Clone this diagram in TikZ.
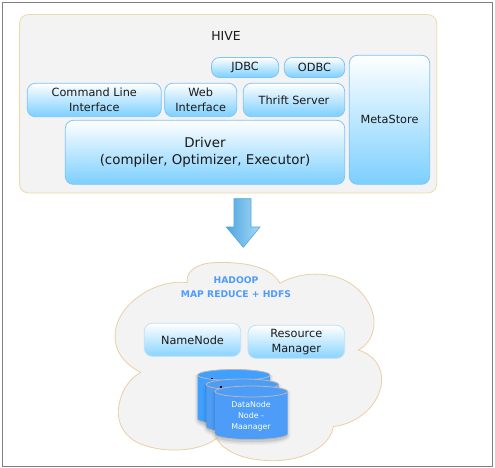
\documentclass[tikz,border=0pt]{standalone}
\usepackage{fontspec}
\setmainfont{DejaVu Sans}
\usetikzlibrary{shadings,fadings}
\definecolor{boxedge}{HTML}{7FC4F5}
\definecolor{boxlow}{HTML}{7CCFFF}
\definecolor{pale}{HTML}{F3F3F3}
\definecolor{tan}{HTML}{F0D9A8}
\definecolor{cloudedge}{HTML}{EBCFA6}
\definecolor{hadoopblue}{HTML}{4D9BFF}
\definecolor{cylA}{HTML}{3FA0FF}
\definecolor{cylB}{HTML}{4F9CF5}
\definecolor{cylC}{HTML}{4C9CF8}
\definecolor{arrowdark}{HTML}{4FA6E0}
\definecolor{arrowlight}{HTML}{A5D8F7}
\tikzset{
  gbox/.style={draw=boxedge,line width=0.8pt,rounded corners=8pt,top color=white,bottom color=boxlow,
    align=center,inner sep=0pt,font=\fontsize{11.3}{15.3}\selectfont,text=black!90},
  hbox/.style={gbox,draw=boxedge!50,bottom color=boxlow!90},
  dnlabel/.style={text=white,align=center,inner sep=0pt,font=\fontsize{7.9}{11}\selectfont},
  cylrim/.style={draw=black!28,line width=0.8pt},
}
% bottom half of an ellipse, from left to right, continuing a path is not possible
% inside \pgfmathsetmacro, so the whole body outline is built from these values
\newcommand{\cylshape}[5]{% x1 x2 ytop ybot colour
  \pgfmathsetmacro{\cc}{(#1+#2)/2}
  \pgfmathsetmacro{\rk}{(#2-#1)/2*0.5523}
  \pgfmathsetmacro{\pa}{\cc-\rk}
  \pgfmathsetmacro{\pb}{\cc+\rk}
  \foreach \s/\o in {5/0.04,3.5/0.06,2/0.08}{
    \fill[black,opacity=\o] (#1-\s+2,#3) -- (#1-\s+2,#4+1)
      .. controls (#1-\s+2,#4+4.5+\s) and (\pa,#4+6+\s) .. (\cc,#4+6+\s)
      .. controls (\pb,#4+6+\s) and (#2+\s-2,#4+4.5+\s) .. (#2+\s-2,#4+1) -- (#2+\s-2,#3) -- cycle;
  }
  \fill[#5] (#1,#3) -- (#1,#4)
      .. controls (#1,#4+3) and (\pa,#4+5.5) .. (\cc,#4+5.5)
      .. controls (\pb,#4+5.5) and (#2,#4+3) .. (#2,#4) -- (#2,#3)
      .. controls (#2,#3-3) and (\pb,#3-5.5) .. (\cc,#3-5.5)
      .. controls (\pa,#3-5.5) and (#1,#3-3) .. (#1,#3) -- cycle;
  \draw[cylrim] (#1,#3)
      .. controls (#1,#3-3) and (\pa,#3-5.5) .. (\cc,#3-5.5)
      .. controls (\pb,#3-5.5) and (#2,#3-3) .. (#2,#3)
      .. controls (#2,#3+3) and (\pb,#3+5.5) .. (\cc,#3+5.5)
      .. controls (\pa,#3+5.5) and (#1,#3+3) .. (#1,#3) -- cycle;
  \draw[cylrim] (#1,#4)
      .. controls (#1,#4+3) and (\pa,#4+5.5) .. (\cc,#4+5.5)
      .. controls (\pb,#4+5.5) and (#2,#4+3) .. (#2,#4);
}
\begin{document}
\begin{tikzpicture}[x=1pt,y=-1pt]
\useasboundingbox (0,0) rectangle (495,468);
\fill[white] (0,0) rectangle (495,468);
\draw[black!50,line width=1pt] (2.7,2.7) rectangle (492.7,466);
% HIVE panel
\node[draw=tan,fill=pale,line width=0.8pt,rounded corners=9pt,minimum width=417.2pt,minimum height=178.5pt,inner sep=0pt] (hive) at (228.1,103.75) {};
\node[inner sep=0pt,font=\fontsize{12.4}{14}\selectfont,text=black!90] (hivet) at (226,35.5) {HIVE};
\node[gbox,minimum width=67.2pt,minimum height=20pt] (jdbc) at (245.1,67.5) {JDBC};
\node[gbox,minimum width=60.4pt,minimum height=20pt] (odbc) at (314.5,67.5) {ODBC};
\node[gbox,minimum width=134pt,minimum height=33.4pt] (cli) at (94.3,100) {Command Line\\Interface};
\node[gbox,minimum width=72pt,minimum height=33.4pt] (web) at (200.7,100) {Web\\Interface};
\node[gbox,minimum width=101.4pt,minimum height=33.4pt] (thrift) at (294,100) {Thrift Server};
\node[gbox,minimum width=279.4pt,minimum height=64pt,font=\fontsize{13.4}{17}\selectfont] (driver) at (205,152.3) {Driver\\(compiler, Optimizer, Executor)};
\node[gbox,minimum width=80.4pt,minimum height=129pt] (meta) at (389.5,119.8) {MetaStore};
% arrow
\path[draw=arrowdark,line width=0.6pt,left color=arrowdark,right color=arrowlight]
  (234,198.7) -- (251,198.7) -- (251,227) -- (260,227) -- (243.3,247.3) -- (226.3,227) -- (234,227) -- cycle;
% cloud
\begin{scope}[shift={(100,190)},x=0.3333pt,y=-0.3333pt]
\draw[draw=cloudedge,fill=pale,line width=0.8pt]
 (262,278) .. controls (255,240) and (300,218) .. (345,218)
 .. controls (420,215) and (510,225) .. (540,280)
 .. controls (580,255) and (640,248) .. (680,255)
 .. controls (750,262) and (815,320) .. (822,390)
 .. controls (825,430) and (805,465) .. (775,480)
 .. controls (825,495) and (848,535) .. (845,575)
 .. controls (840,640) and (780,700) .. (700,710)
 .. controls (690,770) and (610,815) .. (510,812)
 .. controls (440,810) and (375,790) .. (350,745)
 .. controls (300,785) and (200,790) .. (130,765)
 .. controls (70,745) and (45,690) .. (58,640)
 .. controls (65,600) and (90,565) .. (122,547)
 .. controls (70,520) and (40,480) .. (46,425)
 .. controls (55,340) and (170,265) .. (262,278) -- cycle;
\end{scope}
\node[text=hadoopblue,align=center,inner sep=0pt,font=\bfseries\fontsize{9.2}{13.3}\selectfont] (hadoop) at (236,287) {HADOOP\\MAP REDUCE + HDFS};
\node[hbox,minimum width=96.4pt,minimum height=33pt] (nn) at (192.5,339.8) {NameNode};
\node[hbox,minimum width=96.7pt,minimum height=33pt] (rm) at (296.3,341.8) {Resource\\Manager};
% data nodes
\cylshape{197.7}{270}{375}{419}{cylA}
\fill[black] (211,378) rectangle (213,379.2);
\cylshape{206.3}{278.7}{384.5}{427}{cylB}
\fill[black] (220,386.3) rectangle (222,387.5);
\cylshape{215}{287.7}{391.5}{434}{cylC}
\node[dnlabel] (dn) at (251,416.5) {DataNode\\Node -\\Maanager};
\end{tikzpicture}
\end{document}
